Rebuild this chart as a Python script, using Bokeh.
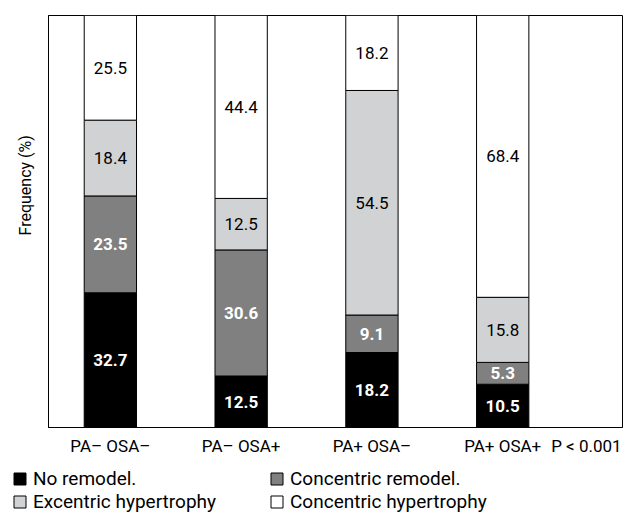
from bokeh.plotting import figure
from bokeh.layouts import column
from bokeh.models import (ColumnDataSource, FixedTicker, Legend, LegendItem, Range1d)
from bokeh.core.properties import value
from bokeh.embed import file_html
from bokeh.resources import INLINE

groups = ["PA\u2013 OSA\u2013", "PA\u2013 OSA+", "PA+ OSA\u2013", "PA+ OSA+"]
p_text = "P < 0.001"
y_title = "Frequency (%)"
series_names = ["No remodel.", "Concentric remodel.", "Excentric hypertrophy", "Concentric hypertrophy"]
no_remodel = [32.7, 12.5, 18.2, 10.5]
concentric_remodel = [23.5, 30.6, 9.1, 5.3]
excentric_hyp = [18.4, 12.5, 54.5, 15.8]
concentric_hyp = [25.5, 44.4, 18.2, 68.4]

series = [no_remodel, concentric_remodel, excentric_hyp, concentric_hyp]
colors = ["#000000", "#808080", "#d1d2d4", "#ffffff"]
label_colors = ["white", "white", "black", "black"]
label_styles = ["bold", "bold", "normal", "normal"]

FONT = "Roboto"

xs = list(range(len(groups)))
p_pos = 3.64

p = figure(width=633, height=467, output_backend="svg", toolbar_location=None,
           x_range=Range1d(-0.473, 3.916), y_range=Range1d(0, 100),
           min_border_left=47, min_border_right=11, min_border_top=15, min_border_bottom=40,
           title_location="left")
p.frame_align = False
p.grid.visible = False
p.outline_line_color = "black"
p.outline_line_width = 1
p.background_fill_color = "white"

# y title on the left, lifted above the frame centre as in the original
p.title.text = y_title
p.title.align = "left"
p.title.offset = 192
p.title.standoff = 27
p.title.text_font = FONT
p.title.text_font_size = "16px"
p.title.text_font_style = "normal"
p.title.text_color = "black"

bottoms = [0.0] * len(groups)
for vals, col, lc, ls in zip(series, colors, label_colors, label_styles):
    tops = [b + v for b, v in zip(bottoms, vals)]
    mids = [(b + t) / 2 for b, t in zip(bottoms, tops)]
    src = ColumnDataSource(dict(x=xs, bottom=bottoms, top=tops, mid=mids,
                                txt=[f"{v:.1f}" for v in vals]))
    p.vbar(x="x", bottom="bottom", top="top", width=0.4, source=src,
           fill_color=col, line_color="black", line_width=1)
    p.text(x="x", y="mid", text="txt", source=src, text_align="center",
           text_baseline="middle", text_color=lc, text_font=value(FONT),
           text_font_size="17px", text_font_style=ls)
    bottoms = tops

# x axis
p.xaxis.ticker = FixedTicker(ticks=xs + [p_pos])
overrides = {i: g for i, g in zip(xs, groups)}
overrides[p_pos] = p_text
p.xaxis.major_label_overrides = overrides
p.xaxis.major_tick_line_color = None
p.xaxis.major_tick_out = 0
p.xaxis.major_tick_in = 0
p.xaxis.minor_tick_line_color = None
p.xaxis.axis_line_color = "black"
p.xaxis.major_label_text_font = FONT
p.xaxis.major_label_text_font_size = "17px"
p.xaxis.major_label_text_color = "black"
p.xaxis.major_label_standoff = 8

# y axis (no ticks, no labels)
p.yaxis.ticker = FixedTicker(ticks=[])
p.yaxis.major_tick_line_color = None
p.yaxis.major_tick_out = 0
p.yaxis.major_tick_in = 0
p.yaxis.minor_tick_line_color = None
p.yaxis.axis_line_color = "black"

# legend strip
leg = figure(width=633, height=46, output_backend="svg", toolbar_location=None,
             x_axis_type=None, y_axis_type=None, min_border=0,
             x_range=Range1d(0, 1), y_range=Range1d(1, 2))
leg.frame_align = False
leg.grid.visible = False
leg.outline_line_color = None
items = []
for name, col in zip(series_names, colors):
    src = ColumnDataSource(dict(x=[0.5], top=[0.0]))
    r = leg.vbar(x="x", top="top", width=0.4, source=src,
                 fill_color=col, line_color="black", line_width=1)
    items.append(LegendItem(label=name, renderers=[r]))
legend = Legend(items=items, ncols=2, orientation="horizontal", location=(12, 0),
                glyph_width=15, glyph_height=15, label_standoff=6, label_width=236,
                label_height=23, spacing=0, padding=0, margin=0,
                label_text_font=FONT, label_text_font_size="19px",
                label_text_line_height=1.0,
                label_text_color="black", border_line_color=None,
                background_fill_alpha=0)
leg.add_layout(legend, "center")

layout = column(p, leg, spacing=0)
open("out.html", "w").write(file_html(layout, INLINE))
